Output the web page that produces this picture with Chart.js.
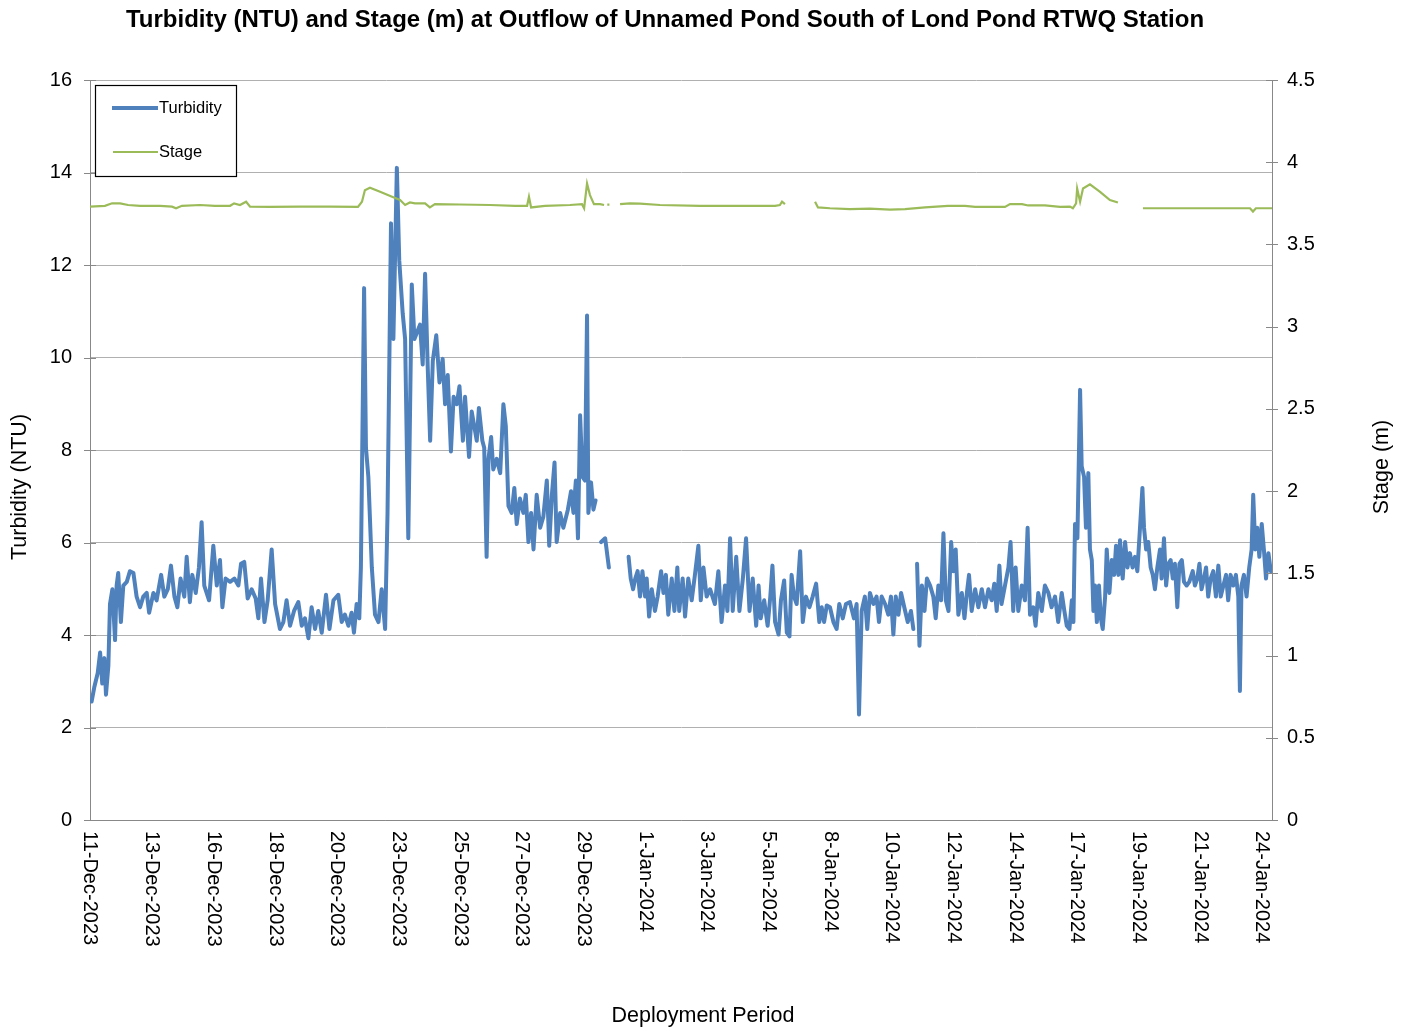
<!DOCTYPE html>
<html><head><meta charset="utf-8">
<script src="https://cdn.jsdelivr.net/npm/chart.js@4.4.1/dist/chart.umd.min.js"></script>
<style>html,body{margin:0;padding:0;background:#fff;}#wrap{width:1406px;height:1029px;}</style>
</head><body><div id="wrap"><canvas id="c" width="1406" height="1029"></canvas></div>
<script>
const chartTitle = "Turbidity (NTU) and Stage (m) at Outflow of Unnamed Pond South of Lond Pond RTWQ Station";
const leftAxisTitle = "Turbidity (NTU)";
const rightAxisTitle = "Stage (m)";
const xAxisTitle = "Deployment Period";
const seriesNames = ["Turbidity", "Stage"];
const xTickLabels = ["11-Dec-2023","13-Dec-2023","16-Dec-2023","18-Dec-2023","20-Dec-2023","23-Dec-2023","25-Dec-2023","27-Dec-2023","29-Dec-2023","1-Jan-2024","3-Jan-2024","5-Jan-2024","8-Jan-2024","10-Jan-2024","12-Jan-2024","14-Jan-2024","17-Jan-2024","19-Jan-2024","21-Jan-2024","24-Jan-2024"];
const xTickDays = [0,2.316,4.632,6.947,9.263,11.579,13.895,16.211,18.526,20.842,23.158,25.474,27.789,30.105,32.421,34.737,37.053,39.368,41.684,44];
const xMaxDay = 44.375;

// days since 11-Dec-2023 00:00
const turbDay = [0.06,0.16,0.29,0.38,0.46,0.54,0.6,0.69,0.75,0.84,0.94,1.0,1.06,1.16,1.25,1.38,1.5,1.63,1.75,1.88,2.0,2.13,2.22,2.38,2.5,2.67,2.79,2.92,3.04,3.17,3.28,3.4,3.54,3.63,3.75,3.84,3.97,4.09,4.19,4.29,4.47,4.63,4.76,4.88,4.97,5.09,5.26,5.42,5.57,5.67,5.79,5.92,6.07,6.22,6.32,6.42,6.55,6.67,6.82,6.95,7.13,
7.26,7.38,7.51,7.66,7.82,7.95,8.07,8.2,8.32,8.45,8.57,8.7,8.86,8.99,9.14,9.32,9.45,9.57,9.7,9.82,9.91,10.01,10.11,10.17,10.29,10.36,10.45,10.58,10.7,10.83,10.95,11.08,11.17,11.3,11.39,11.52,11.61,11.74,11.83,11.95,12.08,12.18,12.29,12.39,12.49,12.58,12.68,12.77,12.87,13.0,13.12,13.24,13.33,13.43,13.55,13.65,13.77,13.87,14.0,14.08,14.23,14.33,14.52,14.6,
14.73,14.8,14.89,14.96,15.06,15.14,15.27,15.4,15.52,15.61,15.71,15.83,15.93,16.02,16.14,16.27,16.36,16.46,16.56,16.65,16.77,16.9,17.02,17.15,17.24,17.34,17.44,17.52,17.65,17.77,17.94,18.06,18.15,18.24,18.32,18.4,18.49,18.58,18.66,18.71,18.81,18.9,18.98,19.08,19.19,19.34,19.48,19.85,20.22,20.3,20.39,20.47,20.56,20.65,20.74,20.84,20.9,20.99,21.09,21.21,21.31,21.44,21.53,21.62,21.71,21.84,21.94,
22.05,22.12,22.25,22.34,22.46,22.59,22.71,22.84,22.93,23.03,23.15,23.28,23.46,23.59,23.71,23.84,23.93,24.03,24.13,24.26,24.38,24.51,24.63,24.76,24.88,25.01,25.1,25.18,25.31,25.44,25.54,25.62,25.72,25.85,25.94,26.06,26.16,26.26,26.34,26.43,26.53,26.66,26.76,26.88,27.01,27.13,27.26,27.38,27.47,27.56,27.66,27.78,27.91,28.03,28.13,28.26,28.38,28.53,28.68,28.78,28.87,28.97,29.09,29.18,29.28,
29.41,29.53,29.62,29.72,29.85,29.97,30.07,30.16,30.25,30.35,30.45,30.57,30.7,30.82,30.91,30.97,31.05,31.14,31.23,31.33,31.42,31.54,31.66,31.75,31.85,31.95,32.04,32.13,32.23,32.33,32.41,32.5,32.6,32.73,32.83,32.92,33.0,33.1,33.23,33.35,33.48,33.6,33.73,33.85,33.95,34.04,34.14,34.22,34.35,34.48,34.56,34.66,34.75,34.85,34.98,35.1,35.2,35.29,35.41,35.5,35.6,35.73,35.85,35.98,36.1,36.23,36.35,36.48,36.58,
36.67,36.77,36.86,36.92,36.98,37.07,37.17,37.23,37.32,37.39,37.48,37.54,37.61,37.67,37.73,37.8,37.88,37.95,38.02,38.11,38.17,38.27,38.36,38.45,38.52,38.61,38.67,38.77,38.86,38.95,39.04,39.14,39.23,39.32,39.42,39.51,39.57,39.65,39.73,39.82,39.9,39.98,40.07,40.17,40.23,40.32,40.4,40.48,40.57,40.65,40.73,40.82,40.9,40.99,41.07,41.17,41.27,41.4,41.48,41.57,41.65,41.73,41.82,41.9,41.98,42.07,42.17,42.27,42.36,42.45,42.55,42.65,42.73,42.82,42.92,43.02,43.11,43.17,43.23,43.32,43.42,43.52,43.61,43.67,43.75,43.82,43.9,43.99,44.07,44.15,44.24,44.33];
const turbVal = [2.56,2.87,3.18,3.62,2.95,3.5,2.71,3.34,4.67,4.99,3.89,5.07,5.34,4.28,5.07,5.15,5.38,5.34,4.83,4.6,4.83,4.91,4.48,4.91,4.75,5.3,4.83,4.99,5.5,4.83,4.6,5.22,4.83,5.69,4.71,5.3,4.91,5.46,6.44,5.07,4.75,5.93,5.07,5.62,4.6,5.22,5.15,5.22,5.07,5.54,5.58,4.79,4.99,4.79,4.36,5.22,4.28,4.75,5.85,4.67,4.13,
4.28,4.75,4.2,4.52,4.71,4.2,4.36,3.93,4.6,4.13,4.52,4.05,4.87,4.13,4.75,4.87,4.28,4.44,4.2,4.48,4.05,4.67,4.36,5.46,11.5,8.05,7.42,5.46,4.44,4.28,4.99,4.13,6.64,12.9,10.4,14.1,12.1,10.95,10.4,6.09,11.58,10.4,10.56,10.71,9.85,11.81,9.77,8.2,9.93,10.48,9.46,9.97,8.99,9.62,7.97,9.15,8.99,9.38,8.2,9.15,7.85,8.83,8.2,8.91,
8.2,8.05,5.69,7.81,8.28,7.58,7.81,7.5,8.99,8.52,6.79,6.64,7.18,6.4,6.95,6.64,7.03,6.01,6.64,5.85,7.03,6.32,6.56,7.34,5.93,7.03,7.73,6.01,6.64,6.32,6.71,7.11,6.64,7.34,6.09,8.75,7.42,7.34,10.91,6.64,7.3,6.71,6.91,null,6.01,6.09,5.46,null,5.69,5.22,4.99,5.22,5.38,4.83,5.38,4.83,5.22,4.4,4.99,4.52,4.83,5.38,4.91,5.3,4.44,5.22,4.52,
5.46,4.52,5.22,4.4,5.22,4.75,5.3,5.93,4.75,5.46,4.83,4.99,4.67,5.38,4.28,5.07,4.52,6.09,4.52,5.69,4.52,5.22,6.09,4.52,5.22,4.2,5.07,4.36,4.75,4.2,4.83,5.5,4.28,4.01,4.75,5.18,4.05,3.97,5.3,4.83,4.67,5.81,4.28,4.83,4.6,4.83,5.11,4.28,4.6,4.28,4.64,4.6,4.28,4.13,4.67,4.36,4.67,4.71,4.36,4.67,2.28,4.52,4.83,4.13,4.91,
4.67,4.83,4.28,4.83,4.67,4.44,4.83,4.01,4.83,4.44,4.91,4.6,4.28,4.52,4.13,null,5.54,3.77,5.07,4.52,5.22,5.07,4.83,4.36,5.07,4.75,6.2,4.75,4.52,6.01,5.38,5.85,4.44,4.91,4.36,4.91,5.3,4.52,4.99,4.6,4.99,4.6,4.99,4.75,5.11,4.52,5.5,4.67,5.07,5.46,6.01,4.52,5.46,4.52,5.07,4.75,6.32,4.44,4.6,4.2,4.91,4.52,5.07,4.91,4.6,4.83,4.28,4.91,4.52,
4.2,4.13,4.75,4.28,6.4,6.09,9.3,7.65,7.42,6.32,7.5,5.85,5.62,4.52,5.07,4.28,5.07,4.36,4.13,4.83,5.85,4.91,5.62,5.3,5.93,5.3,6.05,5.22,6.01,5.46,5.77,5.46,5.69,5.38,6.32,7.18,6.32,5.85,6.01,5.46,5.3,4.99,5.46,5.85,5.22,6.09,5.07,5.54,5.62,5.22,5.54,4.6,5.54,5.62,5.15,5.07,5.15,5.38,5.07,5.22,5.54,4.99,5.22,5.46,4.83,5.22,5.38,4.83,5.5,4.83,5.07,5.3,4.75,5.3,5.07,5.3,4.83,2.79,5.07,5.3,4.83,5.46,5.85,7.03,5.85,6.32,5.69,6.4,5.85,5.22,5.77,5.38];

const stageDay = [0,0.56,0.83,1.13,1.43,1.88,2.63,3.08,3.23,3.45,4.13,4.69,5.26,5.41,5.63,5.86,6.01,6.76,7.88,9.01,10.06,10.21,10.32,10.51,10.89,11.34,11.64,11.83,12.01,12.2,12.58,12.76,12.95,13.89,15.02,15.96,16.41,16.48,16.56,17.08,18.02,18.47,18.55,18.66,18.77,18.92,19.15,19.3,19.36,19.42,19.5,19.56,19.9,20.27,20.65,21.4,22.9,24.4,25.72,25.9,25.98,26.09,26.6,27.22,27.33,27.78,28.53,29.28,30.03,30.6,31.35,32.21,32.85,33.23,34.35,34.54,34.99,35.22,35.85,36.42,36.79,36.9,37.02,37.06,37.17,37.28,37.54,37.92,38.29,38.59,39.0,39.53,41.67,43.55,43.66,43.77,44.375];
const stageVal = [3.73,3.735,3.75,3.75,3.74,3.735,3.735,3.73,3.72,3.735,3.74,3.735,3.735,3.75,3.74,3.76,3.73,3.728,3.73,3.73,3.728,3.76,3.83,3.845,3.82,3.79,3.77,3.74,3.755,3.75,3.75,3.725,3.745,3.743,3.74,3.735,3.735,3.79,3.725,3.735,3.74,3.745,3.72,3.87,3.8,3.745,3.745,3.74,null,3.742,3.742,null,3.745,3.75,3.748,3.74,3.735,3.735,3.735,3.74,3.76,3.745,null,3.76,3.725,3.72,3.715,3.718,3.712,3.715,3.725,3.735,3.735,3.728,3.728,3.745,3.745,3.737,3.737,3.728,3.73,3.72,3.75,3.84,3.76,3.84,3.865,3.82,3.77,3.755,null,3.72,3.72,3.72,3.70,3.72,3.72];

const turbColor = "#4F81BD";
const stageColor = "#9BBB59";
const FONT = "'Liberation Sans', Arial, sans-serif";
const gridColor = "#B0B0B0";
const axisColor = "#888888";

const extras = {
  id: 'extras',
  afterDraw(chart) {
    const ctx = chart.ctx;
    const xs = chart.scales.x, yl = chart.scales.y, yr = chart.scales.y2;
    const ca = chart.chartArea;
    ctx.save();
    ctx.strokeStyle = axisColor; ctx.lineWidth = 1;
    yl.ticks.forEach(t => { const y = Math.round(yl.getPixelForValue(t.value)) + 0.5;
      ctx.beginPath(); ctx.moveTo(ca.left - 6, y); ctx.lineTo(ca.left + 6, y); ctx.stroke(); });
    yr.ticks.forEach(t => { const y = Math.round(yr.getPixelForValue(t.value)) + 0.5;
      ctx.beginPath(); ctx.moveTo(ca.right - 6, y); ctx.lineTo(ca.right + 6, y); ctx.stroke(); });
    // title
    ctx.fillStyle = "#000";
    ctx.font = "bold 24px " + FONT;
    ctx.textAlign = "center"; ctx.textBaseline = "middle";
    ctx.fillText(chartTitle, 665, 20);
    // x tick labels rotated clockwise
    ctx.font = "20px " + FONT;
    xs.ticks.forEach((t, i) => {
      const x = xs.getPixelForValue(t.value);
      ctx.save(); ctx.translate(x, ca.bottom + 11); ctx.rotate(Math.PI / 2);
      ctx.textAlign = "left"; ctx.textBaseline = "middle";
      ctx.fillText(xTickLabels[i], 0, 0); ctx.restore();
    });
    // axis titles
    ctx.font = "21.5px " + FONT;
    ctx.textAlign = "center"; ctx.textBaseline = "middle";
    ctx.fillText(xAxisTitle, 703, 1016);
    ctx.save(); ctx.translate(20, 487); ctx.rotate(-Math.PI / 2); ctx.fillText(leftAxisTitle, 0, 0); ctx.restore();
    ctx.save(); ctx.translate(1382, 467); ctx.rotate(-Math.PI / 2); ctx.fillText(rightAxisTitle, 0, 0); ctx.restore();
    // legend
    ctx.fillStyle = "#fff"; ctx.fillRect(95.5, 85.5, 141, 91);
    ctx.strokeStyle = "#000"; ctx.lineWidth = 1.2; ctx.strokeRect(95.5, 85.5, 141, 91);
    ctx.lineCap = "butt";
    ctx.strokeStyle = turbColor; ctx.lineWidth = 4;
    ctx.beginPath(); ctx.moveTo(112, 108); ctx.lineTo(158, 108); ctx.stroke();
    ctx.strokeStyle = stageColor; ctx.lineWidth = 2;
    ctx.beginPath(); ctx.moveTo(113, 152); ctx.lineTo(158, 152); ctx.stroke();
    ctx.fillStyle = "#000"; ctx.font = "16.5px " + FONT; ctx.textAlign = "left";
    ctx.fillText(seriesNames[0], 159, 108);
    ctx.fillText(seriesNames[1], 159, 152);
    ctx.restore();
  }
};

new Chart(document.getElementById('c'), {
  type: 'line',
  data: {
    datasets: [
      { label: seriesNames[1], yAxisID: 'y2', data: stageDay.map((d, i) => ({x: d, y: stageVal[i]})),
        borderColor: stageColor, borderWidth: 2.2, pointRadius: 0, tension: 0, spanGaps: false },
      { label: seriesNames[0], yAxisID: 'y', data: turbDay.map((d, i) => ({x: d, y: turbVal[i]})),
        borderColor: turbColor, borderWidth: 4, pointRadius: 0, tension: 0, spanGaps: false, borderJoinStyle: 'round', borderCapStyle: 'round' }
    ]
  },
  options: {
    responsive: false, animation: false, devicePixelRatio: 1,
    layout: { padding: { top: 80, left: 0, right: 0, bottom: 0 } },
    plugins: { legend: { display: false }, title: { display: false }, tooltip: { enabled: false } },
    scales: {
      x: { type: 'linear', min: 0, max: xMaxDay,
        afterBuildTicks: s => { s.ticks = xTickDays.map(v => ({ value: v })); },
        afterFit: s => { s.height = 209; },
        ticks: { display: false },
        grid: { display: false, drawTicks: false },
        border: { display: true, color: axisColor, width: 1 } },
      y: { position: 'left', min: 0, max: 16,
        afterFit: s => { s.width = 90; },
        ticks: { stepSize: 2, color: "#000", font: { family: FONT, size: 20 }, padding: 18 },
        grid: { color: gridColor, lineWidth: 1, drawTicks: false },
        border: { display: true, color: axisColor, width: 1 } },
      y2: { position: 'right', min: 0, max: 4.5,
        afterFit: s => { s.width = 134; },
        ticks: { stepSize: 0.5, color: "#000", font: { family: FONT, size: 20 }, padding: 15,
          callback: v => String(v) },
        grid: { drawOnChartArea: false, drawTicks: false },
        border: { display: true, color: axisColor, width: 1 } }
    }
  },
  plugins: [extras]
});
</script></body></html>
